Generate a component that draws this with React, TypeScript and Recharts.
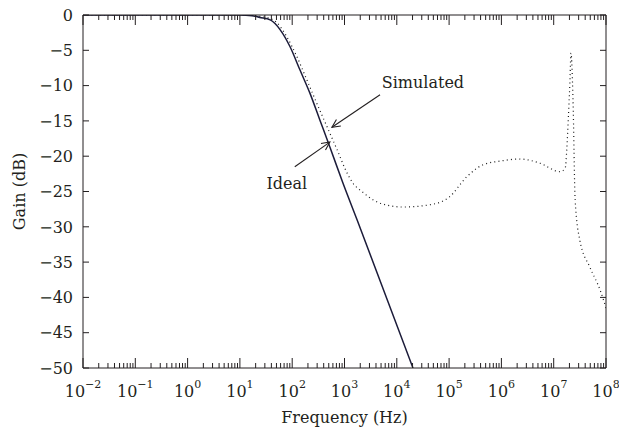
import React from "react";
import {
  LineChart,
  Line,
  XAxis,
  YAxis,
  ReferenceLine,
  ReferenceDot,
} from "recharts";

// frequency in Hz, gain in dB
const IDEAL_FREQ = [0.01, 0.1, 1, 10, 17, 24, 38, 59, 91, 141, 219, 339, 525, 933, 1738, 20400];
const IDEAL_GAIN = [0, 0, 0, 0, -0.1, -0.35, -0.7, -2.1, -4.5, -7.8, -11.1, -14.9, -18.7, -23.8, -29.0, -50];

const SIM_FREQ = [
  0.01, 0.1, 1, 10, 30, 51, 79, 123, 191, 295, 468, 724, 1122, 1445, 2239, 3548, 5495, 13183,
  48978, 100000, 218776, 446684, 933254, 2.29e6, 5.5e6, 1.32e7, 1.66e7, 1.78e7, 1.91e7, 2.04e7,
  2.14e7, 2.34e7, 2.57e7, 3.16e7, 4.9e7, 7.76e7, 1e8,
];
const SIM_GAIN = [
  0, 0, 0, 0, -0.3, -1.1, -3.1, -5.9, -9.2, -12.5, -15.9, -19.1, -22.4, -23.8, -25.1, -26.2, -26.8, -27.2,
  -26.8, -25.8, -22.9, -21.2, -20.7, -20.4, -21.0, -22.2, -21.7, -19.0, -14.4, -9.6,
  -5.4, -12.0, -26.2, -31.9, -35.7, -39.0, -41.5,
];

const DECADES = [-2, -1, 0, 1, 2, 3, 4, 5, 6, 7, 8];
const MINORS = [2, 3, 4, 5, 6, 7, 8, 9];
const Y_TICKS = [0, -5, -10, -15, -20, -25, -30, -35, -40, -45, -50];

const X_TICKS: number[] = [];
DECADES.forEach((d, i) => {
  X_TICKS.push(Math.pow(10, d));
  if (i < DECADES.length - 1) MINORS.forEach((m) => X_TICKS.push(m * Math.pow(10, d)));
});

const ideal = IDEAL_FREQ.map((f, i) => ({ f, g: IDEAL_GAIN[i] }));
const simulated = SIM_FREQ.map((f, i) => ({ f, g: SIM_GAIN[i] }));

const FONT = "DejaVu Serif";
const INK = "#231f20";

function isMajor(v: number) {
  const l = Math.log10(v);
  return Math.abs(l - Math.round(l)) < 1e-6;
}

function BottomTick(props: any) {
  const { x, y, payload } = props;
  const major = isMajor(payload.value);
  const e = Math.round(Math.log10(payload.value));
  return (
    <g>
      <line x1={x} x2={x} y1={y} y2={y - (major ? 10 : 5)} stroke={INK} strokeWidth={1} />
      {major && (
        <text x={x} y={y + 29} textAnchor="middle" fontFamily={FONT} fontSize={16} fill={INK}>
          10
          <tspan dy={-9} fontSize={11}>
            {e < 0 ? `\u2212${-e}` : e}
          </tspan>
        </text>
      )}
    </g>
  );
}

function TopTick(props: any) {
  const { x, y, payload } = props;
  const major = isMajor(payload.value);
  return <line x1={x} x2={x} y1={y} y2={y + (major ? 10 : 5)} stroke={INK} strokeWidth={1} />;
}

function LeftTick(props: any) {
  const { x, y, payload } = props;
  const v = payload.value;
  return (
    <g>
      <line x1={x} x2={x + 6} y1={y} y2={y} stroke={INK} strokeWidth={1} />
      <text x={x - 10} y={y} dy="0.36em" textAnchor="end" fontFamily={FONT} fontSize={16} fill={INK}>
        {v < 0 ? `\u2212${-v}` : v}
      </text>
    </g>
  );
}

function RightTick(props: any) {
  const { x, y } = props;
  return <line x1={x} x2={x - 6} y1={y} y2={y} stroke={INK} strokeWidth={1} />;
}

function XTitle(props: any) {
  const vb = props.viewBox;
  return (
    <text x={vb.x + vb.width / 2} y={423} textAnchor="middle" fontFamily={FONT} fontSize={16} fill={INK}>
      Frequency (Hz)
    </text>
  );
}

function YTitle(props: any) {
  const vb = props.viewBox;
  const cy = vb.y + vb.height / 2;
  return (
    <text
      transform={`translate(25, ${cy}) rotate(-90)`}
      textAnchor="middle"
      fontFamily={FONT}
      fontSize={16}
      fill={INK}
    >
      Gain (dB)
    </text>
  );
}

function Arrow(props: any) {
  const { x1, y1, x2, y2 } = props;
  const a = Math.atan2(y2 - y1, x2 - x1);
  const len = 9;
  const spread = 0.45;
  const p1 = [x2 - len * Math.cos(a - spread), y2 - len * Math.sin(a - spread)];
  const p2 = [x2 - len * Math.cos(a + spread), y2 - len * Math.sin(a + spread)];
  return (
    <g stroke={INK} strokeWidth={1.1} fill="none">
      <line x1={x1} y1={y1} x2={x2} y2={y2} />
      <polyline points={`${p1[0]},${p1[1]} ${x2},${y2} ${p2[0]},${p2[1]}`} />
    </g>
  );
}

function labelShape(text: string) {
  return (p: any) => (
    <text x={p.cx} y={p.cy} dy="0.35em" textAnchor="middle" fontFamily={FONT} fontSize={16} fill={INK}>
      {text}
    </text>
  );
}

export default function App() {
  return (
    <div style={{ position: "absolute", left: 0, top: 0, background: "#fff" }}>
      <LineChart width={619} height={436} margin={{ top: 14, right: 12, bottom: 0, left: 0 }}>
        <XAxis
          xAxisId="b"
          type="number"
          dataKey="f"
          scale="log"
          domain={[0.01, 1e8]}
          allowDataOverflow
          ticks={X_TICKS}
          interval={0}
          tickSize={0}
          tickMargin={0}
          tickLine={false}
          tick={<BottomTick />}
          height={68}
          axisLine={{ stroke: INK, strokeWidth: 1 }}
          label={<XTitle />}
        />
        <XAxis
          xAxisId="t"
          orientation="top"
          type="number"
          dataKey="f"
          scale="log"
          domain={[0.01, 1e8]}
          allowDataOverflow
          ticks={X_TICKS}
          interval={0}
          tickSize={0}
          tickMargin={0}
          tickLine={false}
          tick={<TopTick />}
          height={1}
          axisLine={{ stroke: INK, strokeWidth: 1 }}
        />
        <YAxis
          yAxisId="l"
          type="number"
          domain={[-50, 0]}
          allowDataOverflow
          ticks={Y_TICKS}
          interval={0}
          tickSize={0}
          tickMargin={0}
          tickLine={false}
          tick={<LeftTick />}
          width={83}
          axisLine={{ stroke: INK, strokeWidth: 1 }}
          label={<YTitle />}
        />
        <YAxis
          yAxisId="r"
          orientation="right"
          type="number"
          domain={[-50, 0]}
          allowDataOverflow
          ticks={Y_TICKS}
          interval={0}
          tickSize={0}
          tickMargin={0}
          tickLine={false}
          tick={<RightTick />}
          width={1}
          axisLine={{ stroke: INK, strokeWidth: 1 }}
        />
        <Line
          xAxisId="t"
          yAxisId="r"
          data={ideal}
          dataKey="g"
          stroke="none"
          dot={false}
          legendType="none"
          isAnimationActive={false}
        />
        <Line
          xAxisId="b"
          yAxisId="l"
          data={simulated}
          dataKey="g"
          type="monotone"
          stroke="#1a1a1a"
          strokeWidth={1.2}
          strokeDasharray="1 3.2"
          dot={false}
          isAnimationActive={false}
        />
        <Line
          xAxisId="b"
          yAxisId="l"
          data={ideal}
          dataKey="g"
          type="monotone"
          stroke="#1c1c3a"
          strokeWidth={1.5}
          dot={false}
          isAnimationActive={false}
        />
        <ReferenceLine
          xAxisId="b"
          yAxisId="l"
          segment={[{ x: 4786, y: -11.3 }, { x: 575, y: -15.9 }]}
          shape={Arrow}
        />
        <ReferenceLine
          xAxisId="b"
          yAxisId="l"
          segment={[{ x: 112, y: -21.5 }, { x: 525, y: -18.0 }]}
          shape={Arrow}
        />
        <ReferenceDot xAxisId="b" yAxisId="l" x={31600} y={-9.5} shape={labelShape("Simulated")} />
        <ReferenceDot xAxisId="b" yAxisId="l" x={79} y={-23.8} shape={labelShape("Ideal")} />
      </LineChart>
    </div>
  );
}
